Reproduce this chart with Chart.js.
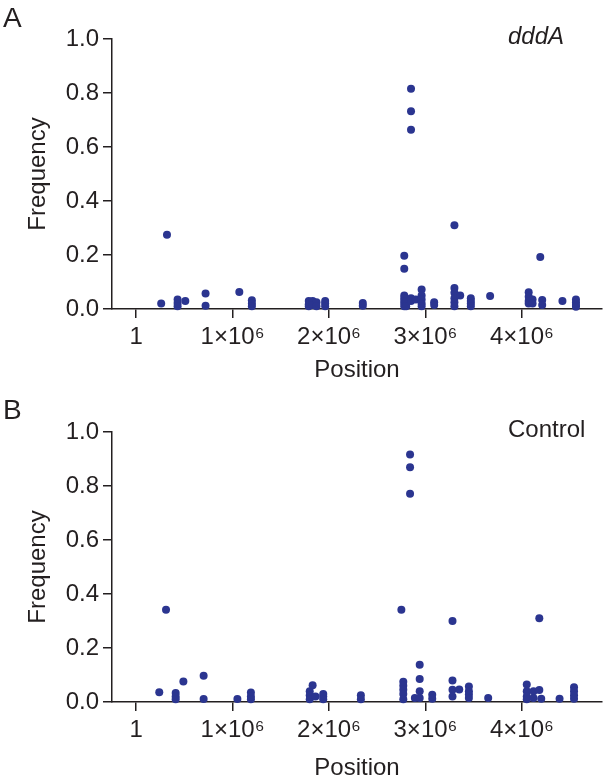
<!DOCTYPE html>
<html>
<head>
<meta charset="utf-8">
<script src="https://cdn.jsdelivr.net/npm/chart.js@4/dist/chart.umd.min.js"></script>
<style>
  html, body { margin: 0; padding: 0; background: #fff; }
  body { width: 607px; height: 783px; overflow: hidden; position: relative; font-family: "Liberation Sans", Arial, sans-serif; color: #231f20; }
  .panel { position: absolute; left: 0; width: 607px; }
  .letter { position: absolute; font-size: 28px; line-height: 1; }
  .tag { position: absolute; font-size: 24px; line-height: 1; }
</style>
</head>
<body>
<div class="panel" style="top:0;height:393px;"><canvas id="chartA" width="607" height="393"></canvas></div>
<div class="panel" style="top:393px;height:390px;"><canvas id="chartB" width="607" height="390"></canvas></div>
<div class="letter" style="left:3px;top:4px;">A</div>
<div class="letter" style="left:3px;top:396px;">B</div>
<div class="tag" style="left:508px;top:24px;font-style:italic;">dddA</div>
<div class="tag" style="left:508px;top:417px;">Control</div>
<script>
// positions in Mb, frequencies
var dddaPos = [0.26, 0.32, 0.43, 0.43, 0.43, 0.51, 0.72, 0.72, 1.07, 1.20, 1.20, 1.20,
  1.79, 1.79, 1.79, 1.83, 1.83, 1.87, 1.87, 1.96, 1.96, 1.96, 2.35, 2.35,
  2.78, 2.78, 2.78, 2.78, 2.78, 2.78, 2.78, 2.80, 2.80, 2.85, 2.85, 2.85, 2.85, 2.85,
  2.90, 2.96, 2.96, 2.96, 2.96, 2.96, 3.09, 3.09,
  3.30, 3.30, 3.30, 3.30, 3.30, 3.30, 3.36, 3.47, 3.47, 3.47, 3.47, 3.67,
  4.07, 4.07, 4.07, 4.07, 4.11, 4.11, 4.19, 4.21, 4.21, 4.42, 4.56, 4.56, 4.56, 4.56];
var dddaFreq = [0.02, 0.275, 0.035, 0.022, 0.01, 0.03, 0.057, 0.012, 0.063, 0.032, 0.02, 0.01,
  0.03, 0.018, 0.01, 0.03, 0.015, 0.025, 0.01, 0.03, 0.02, 0.01, 0.022, 0.012,
  0.197, 0.149, 0.05, 0.04, 0.03, 0.02, 0.01, 0.025, 0.01, 0.816, 0.732, 0.664, 0.04, 0.03,
  0.035, 0.072, 0.05, 0.035, 0.02, 0.01, 0.025, 0.015,
  0.31, 0.078, 0.06, 0.04, 0.025, 0.01, 0.05, 0.04, 0.03, 0.02, 0.01, 0.048,
  0.062, 0.045, 0.03, 0.02, 0.035, 0.02, 0.193, 0.033, 0.015, 0.03, 0.035, 0.025, 0.015, 0.008];

var controlPos = [0.24, 0.31, 0.41, 0.41, 0.41, 0.49, 0.70, 0.70, 1.05, 1.19, 1.19, 1.19,
  1.80, 1.80, 1.80, 1.83, 1.86, 1.94, 1.94, 1.94, 2.33, 2.33,
  2.75, 2.77, 2.77, 2.77, 2.77, 2.77, 2.84, 2.84, 2.84, 2.89,
  2.94, 2.94, 2.94, 2.94, 3.07, 3.07, 3.28, 3.28, 3.28, 3.28, 3.35,
  3.45, 3.45, 3.45, 3.45, 3.65, 4.05, 4.05, 4.05, 4.05, 4.12, 4.12,
  4.18, 4.18, 4.20, 4.39, 4.54, 4.54, 4.54, 4.54];
var controlFreq = [0.036, 0.342, 0.033, 0.02, 0.01, 0.076, 0.097, 0.011, 0.011, 0.035, 0.02, 0.01,
  0.04, 0.025, 0.01, 0.062, 0.02, 0.03, 0.02, 0.01, 0.025, 0.01,
  0.342, 0.075, 0.06, 0.045, 0.03, 0.01, 0.917, 0.869, 0.771, 0.015,
  0.138, 0.085, 0.04, 0.015, 0.027, 0.012, 0.30, 0.08, 0.045, 0.02, 0.046,
  0.057, 0.04, 0.028, 0.015, 0.015, 0.065, 0.04, 0.02, 0.01, 0.04, 0.015,
  0.31, 0.044, 0.012, 0.012, 0.055, 0.04, 0.025, 0.012];

var xTickValues = [1, 1000000, 2000000, 3000000, 4000000];
var xTickLabels = ["1", "1×10⁶", "2×10⁶", "3×10⁶", "4×10⁶"];
var yTicks = [0, 0.2, 0.4, 0.6, 0.8, 1.0];

var ink = '#231f20';
var dotColor = '#2b3590';
var fontFamily = '"Liberation Sans", Arial, sans-serif';

function makePanel(id, pos, freq, titlePad) {
  var pts = [];
  for (var i = 0; i < pos.length; i++) {
    pts.push({x: pos[i] * 1000000, y: freq[i]});
  }
  var ctx = document.getElementById(id);
  var h = ctx.height;
  return new Chart(ctx, {
    type: 'scatter',
    data: {
      datasets: [{
        data: pts,
        backgroundColor: dotColor,
        borderWidth: 0,
        pointRadius: 4,
        pointHoverRadius: 4,
        clip: false
      }]
    },
    options: {
      responsive: false,
      animation: false,
      events: [],
      layout: { padding: { top: 39, right: 5, left: 0, bottom: 0 } },
      plugins: { legend: { display: false }, tooltip: { enabled: false } },
      scales: {
        x: {
          type: 'linear',
          min: -250000,
          max: 4830000,
          afterBuildTicks: function(scale) {
            scale.ticks = xTickValues.map(function(v) { return {value: v}; });
          },
          afterFit: function(scale) { scale.height = h - 39 - 270; },
          ticks: {
            autoSkip: false,
            maxRotation: 0,
            padding: 5,
            color: ink,
            font: { family: fontFamily, size: 24 },
            callback: function(v, i) { return xTickLabels[i]; }
          },
          grid: { drawOnChartArea: false, drawTicks: true, tickLength: 9, color: ink, lineWidth: 1.5 },
          border: { color: ink, width: 1.5 },
          title: { display: true, text: 'Position', color: ink, padding: titlePad, font: { family: fontFamily, size: 24 } }
        },
        y: {
          min: 0,
          max: 1,
          afterBuildTicks: function(scale) {
            scale.ticks = yTicks.map(function(v) { return {value: v}; });
          },
          afterFit: function(scale) { scale.width = 112; },
          ticks: {
            padding: 4,
            color: ink,
            font: { family: fontFamily, size: 24 },
            callback: function(v) { return Number(v).toFixed(1); }
          },
          grid: { drawOnChartArea: false, drawTicks: true, tickLength: 9, color: ink, lineWidth: 1.5 },
          border: { color: ink, width: 1.5 },
          title: { display: true, text: 'Frequency', color: ink, padding: 24, font: { family: fontFamily, size: 24 } }
        }
      }
    }
  });
}

makePanel('chartA', dddaPos, dddaFreq, 8);
makePanel('chartB', controlPos, controlFreq, 0);
</script>
</body>
</html>
